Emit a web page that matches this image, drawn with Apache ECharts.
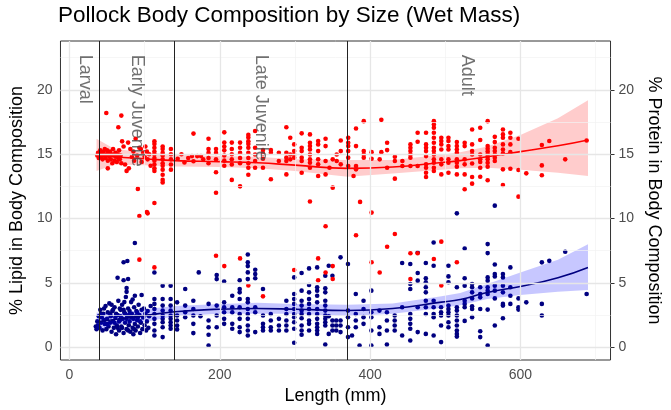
<!DOCTYPE html>
<html>
<head>
<meta charset="utf-8">
<script src="https://cdn.jsdelivr.net/npm/echarts@6/dist/echarts.min.js"></script>
<style>
  html, body { margin: 0; padding: 0; background: #ffffff; }
  #chart { width: 671px; height: 410px; }
</style>
</head>
<body>
<div id="chart"></div>
<script>
// Pollock body composition: protein (red) and lipid (navy) vs length
/* global echarts */

// ---- data: [length, [values...]] per column of points ----
const proteinCols = [
  [37,[14.9]],[38,[15.1]],[39,[14.7]],[40,[15.0]],[41,[15.3]],[42,[14.8]],[43,[15.1]],[44,[14.6]],
  [45,[15.2]],[46,[14.9]],[47,[15.4]],[48,[14.7]],[49,[15.0,18.2]],[50,[15.3]],[51,[14.5,13.9]],
  [52,[15.1]],[53,[14.8]],[54,[15.2]],[55,[14.6]],[56,[15.0]],[57,[14.3]],[58,[15.4]],[59,[14.9]],
  [60,[14.5]],[61,[15.1]],[62,[14.8]],[63,[14.4]],[64,[15.0]],[65,[14.7,17.1]],[66,[15.3]],
  [67,[14.6]],[68,[14.9]],[69,[14.3,18.0]],
  [70,[16.0]],[72,[15.6]],[74,[14.2]],[76,[13.7]],[78,[15.9]],[79,[13.9]],[81,[15.4]],[83,[14.8]],
  [85,[15.2]],[86,[14.5]],[88,[16.2]],[90,[14.9]],[91,[12.3]],[93,[15.5,10.2,6.8]],[95,[15.4]],
  [96,[14.4]],[98,[15.1]],[100,[14.8]],[101,[15.6]],[103,[15.2,10.5]],[104,[14.6,10.4]],
  [106,[15.0]],[108,[14.1]],
  [113,[16.0,15.8,15.5,15.2,15.0,14.7,14.5,14.2,13.9,13.7,11.2,6.2]],
  [124,[15.6,15.4,15.1,14.9,14.6,14.3,14.1,13.8,13.4,13.0,12.8]],
  [135,[15.4,15.0,14.6,14.2,13.8]],
  [144,[14.65]],[149,[15.0]],[153,[14.35]],[158,[14.7]],[163,[14.85]],[165,[14.45,16.6]],
  [170,[14.85]],[175,[14.85]],[178,[14.6]],
  [185,[16.2,15.4,15.1,14.7,14.3]],
  [195,[15.4,15.1,14.6,13.6,12.0,7.1]],
  [206,[16.7,15.9,15.6,15.3,14.9,14.5,14.1,6.3]],
  [216,[15.9,15.4,15.0,14.6,14.2,13.0]],
  [227,[15.9,15.5,15.1,14.7,14.3,12.5,6.9]],
  [238,[16.5,16.3,16.0,15.8,15.5,15.1,14.7,14.3,13.95,13.4,4.8]],
  [247,[16.8,15.5,14.98,14.47,13.95]],
  [257.5,[15.32,15.06,14.65,13.95,3.95]],
  [268,[15.32,15.11,13.05]],
  [278.6,[15.11,14.47]],
  [288.6,[17.1,15.11,14.73,14.47,13.43]],
  [293.8,[16.28,14.98,14.6]],
  [299,[15.76,15.24,14.98,14.73,6.0]],
  [309,[16.62,15.5,15.24,14.73,14.47,13.56]],
  [320,[16.54,15.89,15.63,15.37,14.98,14.6,14.34,13.95,11.32]],
  [330.9,[16.02,15.76,15.24,14.6,14.21,13.3,6.9,5.2]],
  [340.8,[16.2,15.63,14.47,13.43,9.4,5.8]],
  [346,[13.95]],
  [350.3,[14.6,12.4,6.3,5.3]],
  [355.6,[14.98,14.47]],
  [361,[16.07,15.24,14.21]],
  [370.9,[16.28,15.89,15.63,15.24,14.73,14.08]],
  [378,[13.3]],
  [381.3,[17.0,15.63,14.08,13.82,8.7]],
  [386.7,[11.29]],
  [391.6,[17.57,15.24,14.98,14.73]],
  [402,[15.16,14.65,10.46,6.6]],
  [412.8,[14.6,5.8]],
  [415,[17.67,15.16]],
  [422.7,[15.89,15.32,13.95,7.8]],
  [433,[14.8,14.47,13.1,8.8]],
  [443,[14.47,14.08]],
  [453.7,[15.76,15.5,15.24,14.98,14.73,14.08,7.3,5.3]],
  [463.3,[16.67,15.97,14.08,7.3]],
  [474.5,[16.67,15.76,15.5,15.24,14.85,14.21,13.95,13.56,13.23]],
  [484.9,[17.57,17.3,17.05,16.67,16.28,15.89,15.5,15.24,14.98,14.6,14.34,13.95,13.69,6.85]],
  [494.8,[16.28,16.02,15.76,15.37,14.6,14.21,13.43,8.2,4.8]],
  [504.3,[16.28,16.02,15.63,15.37,14.6,14.34,13.56]],
  [515.5,[15.94,15.63,15.37,15.11,14.6,14.34,14.03,13.43,6.6]],
  [525.9,[15.89,15.63,14.6,14.21,13.43,12.27]],
  [535.8,[16.92,15.76,15.24,14.98,14.28,13.23,12.71]],
  [546.6,[17.05,16.1,14.98,14.6,14.39,13.95,13.25]],
  [556.5,[17.57,15.63,15.42,15.21,15.0,14.8,14.6,14.34,14.03,12.97]],
  [566,[16.35,15.94,15.5,15.24,14.98,14.73,14.47]],
  [576.8,[16.92,16.54,16.28,15.76,15.37,15.06,13.82,12.61]],
  [586.7,[16.67,16.28,15.76,15.16,13.87]],
  [597.5,[16.2,13.77,11.7]],
  [607.9,[13.51]],
  [628.6,[15.71,14.13,13.36]],
  [638.5,[16.02]],
  [659.7,[14.6]],
  [688.2,[16.07]],
];

const lipidCols = [
  [35,[1.6]],[36,[1.4]],[37,[2.0]],[38,[1.7]],[39,[2.4]],[40,[1.5]],[41,[2.9]],[42,[1.9,2.6]],
  [43,[2.3]],[44,[1.3]],[45,[2.6]],[46,[2.1,3.0]],[47,[1.8]],[48,[3.2]],[49,[1.4]],[50,[2.2,1.8]],
  [51,[2.7]],[52,[1.6]],[53,[3.4]],[54,[1.9,2.6]],[55,[2.4]],[56,[1.2,3.3]],[57,[2.8]],
  [58,[2.0,2.9]],[59,[1.5]],[60,[3.1,1.9]],[61,[2.3]],[62,[1.0,2.6]],[63,[1.7]],
  [64,[2.5,1.5,5.4]],[65,[3.6]],[66,[1.3,2.0]],[67,[2.1,3.0]],[68,[2.9,2.4]],[69,[1.6]],
  [70,[3.3,1.5]],[71,[2.2]],[72,[1.1,2.9,6.6,5.2]],[73,[2.7,3.5]],[74,[1.9,2.6]],[75,[3.9]],
  [76,[1.4,2.2,4.6,4.3]],[77,[2.4,6.7]],[78,[3.0,1.3,5.3]],[79,[1.7,2.5]],[80,[2.0,2.8]],
  [81,[1.2]],[82,[3.5,2.3]],[83,[2.6]],[84,[1.5,3.7]],[85,[2.2,1.0]],[86,[3.1,1.4]],
  [87,[1.8,8.1,4.0]],[88,[1.3,2.4]],[89,[2.8]],[90,[2.1,2.7]],[91,[1.6,2.3]],[92,[3.3]],
  [93,[2.5]],[94,[1.1,2.0]],[95,[1.9]],[96,[2.9,4.05]],[97,[1.4]],[98,[2.3]],[99,[3.0]],
  [100,[1.7]],[101,[2.6]],[102,[1.3]],[103,[2.0]],[104,[2.8]],[105,[1.5]],[106,[2.4]],[108,[3.2]],
  [113,[3.74,3.36,2.97,2.58,2.2,1.81,1.29,0.91,5.8]],
  [124,[3.74,3.23,2.84,2.46,2.2,1.94,1.55,0.78,4.78]],
  [134.6,[3.74,3.23,2.84,2.46,2.2,1.94,1.68,1.43,4.78]],
  [143.2,[3.48,2.46,2.07,1.68,1.38]],
  [154,[3.23,2.71,2.33,4.52]],
  [164.8,[3.61,2.97,2.46,1.81,1.09]],
  [172,[5.81]],
  [174.3,[2.4]],
  [185.1,[3.36,2.07,1.55,0.96,0.13]],
  [195.9,[3.23,2.46,1.55,5.6,5.29]],
  [205.8,[3.48,3.1,2.71,2.2,1.81,5.1]],
  [216.6,[4.0,3.1,2.71,1.81,1.43]],
  [226.5,[3.74,3.1,2.58,2.2,1.55,1.17,5.2,4.52,4.26]],
  [237.3,[3.74,3.48,2.97,2.58,2.2,1.68,1.29,0.91,7.2,6.59,6.3,5.81,5.29]],
  [247.2,[6.02,5.68,5.35,3.1,2.71,1.17]],
  [257.5,[4.52,2.46,1.81,1.55,1.29]],
  [267.9,[2.58,2.07,1.55,1.29]],
  [278.7,[2.2,1.68,1.29]],
  [288.6,[3.61,2.97,2.58,2.07,1.68,1.29]],
  [299,[5.42,4.13,3.74,3.36,2.97,2.58,2.33,1.94,1.43,0.34]],
  [308.9,[5.76,4.39,3.61,3.23,2.84,2.58,2.25,1.68,1.29,0.96]],
  [318.8,[6.12,4.83,4.26,3.74,3.36,2.97,2.58,2.07,1.81,1.29]],
  [329.6,[6.2,4.65,4.39,4.0,3.48,2.97,2.58,2.2,1.81,1.55,1.29,1.03]],
  [340.4,[5.55,4.57,4.26,3.61,3.23,2.84,2.46,2.2,1.94,1.68,0.21]],
  [345,[6.33,2.4,1.03]],
  [349.9,[5.55,2.07,1.68,1.29]],
  [355,[2.07,1.68,1.29]],
  [360.7,[6.98,2.07,1.68,1.17]],
  [370.6,[6.46,2.84,2.33,1.55,0.78]],
  [376,[0.91]],
  [381,[4.13,2.58,2.07,1.55]],
  [386,[0.13]],
  [391.3,[3.61,2.97,2.33,1.81]],
  [401.7,[4.39,2.71,2.33,1.29,0.13]],
  [412.5,[2.84,1.55,1.03]],
  [422.4,[2.71,2.07,1.29,0.21]],
  [432.8,[2.46,2.07,1.68,1.29]],
  [442.7,[6.54,3.1,0.91]],
  [453.5,[6.46,4.91,4.52,2.58,2.2,1.81,1.43,0.52]],
  [463.4,[7.36,5.76,5.17,3.1,1.17]],
  [474.2,[6.54,5.35,5.04,4.65,4.26,3.61,3.1,2.58,1.03]],
  [484.6,[8.14,6.33,3.61,3.1,2.58,2.33,0.91]],
  [494.5,[3.1,2.71,2.46,1.68,0.39]],
  [504.3,[6.33,5.5,5.04,3.23,2.97,2.71,2.46,1.94,1.55]],
  [515.5,[10.4,4.65,3.1,2.84,2.46,2.07,1.68,1.29,1.03,0.82]],
  [525.9,[7.67,5.35,4.78,3.61,3.36,3.1,2.04]],
  [535.8,[4.91,4.65,4.26,3.79,3.17,2.97,2.33]],
  [546.6,[4.65,4.13,3.87,2.97,1.24,0.78]],
  [556.5,[8.01,7.31,5.42,5.17,4.65,4.39,4.13,2.92,0.13]],
  [566,[11.0,6.43,5.68,5.5,4.78,4.39,3.79,1.68]],
  [576.8,[5.68,5.42,4.78,4.26,3.36,3.23,2.25]],
  [586.7,[6.2,4.65,4.0,3.36]],
  [597.5,[3.79,3.1,2.92]],
  [607.9,[3.48]],
  [628.6,[6.59,3.36,2.46]],
  [638.5,[6.71]],
  [659.7,[7.41]],
  [688.2,[4.13]],
];

// smoothed fits with confidence band (read at these lengths)
const smoothX    = [36, 60, 100, 140, 200, 250, 300, 370, 430, 495, 520, 556, 600, 650, 690];
const proteinFit = [14.95, 14.8, 14.65, 14.5, 14.42, 14.33, 14.15, 13.9, 14.0, 14.35, 14.5, 14.8, 15.2, 15.65, 16.1];
const proteinLo  = [13.7, 14.2, 14.15, 14.05, 14.0, 13.9, 13.7, 13.25, 13.5, 13.8, 13.9, 13.95, 13.8, 13.55, 13.3];
const proteinHi  = [16.2, 15.4, 15.15, 14.95, 14.85, 14.8, 14.6, 14.55, 14.55, 14.95, 15.15, 15.6, 16.5, 17.8, 19.2];
const lipidFit   = [1.95, 2.15, 2.45, 2.75, 2.95, 3.0, 2.95, 2.85, 3.0, 3.5, 3.7, 4.25, 4.72, 5.4, 6.2];
const lipidLo    = [1.3, 1.75, 1.95, 2.4, 2.6, 2.6, 2.6, 2.4, 2.6, 3.05, 3.25, 3.75, 4.05, 4.3, 4.45];
const lipidHi    = [2.7, 2.55, 2.95, 3.2, 3.35, 3.45, 3.35, 3.3, 3.4, 3.95, 4.2, 4.9, 5.8, 6.8, 8.0];

// life stage boundaries and labels
const stageBounds = [40, 140, 370];
const stageNames  = ['Larval', 'Early Juvenile', 'Late Juvenile', 'Adult'];
const stageX      = [21, 91, 255, 530];
const stageTop    = 22.7;

// axis ticks
const xTicks = [0, 200, 400, 600];
const xMinor = [100, 300, 500, 700];
const yTicks = [0, 5, 10, 15, 20];
const yMinor = [2.5, 7.5, 12.5, 17.5, 22.5];

// ---- helpers ----
const FONT = '"Liberation Sans", Arial, sans-serif';
const flatten = (cols) => cols.flatMap(([x, ys]) => ys.map((y) => [x, y]));
const pair = (xs, ys) => xs.map((x, i) => [x, ys[i]]);

const MAJOR = { color: '#e6e6e6', width: 1.3, type: 'solid' };
const MINOR = { color: '#f2f2f2', width: 0.7, type: 'solid' };
const gridLines = [
  ...xMinor.map((v) => ({ xAxis: v, lineStyle: MINOR })),
  ...yMinor.map((v) => ({ yAxis: v, lineStyle: MINOR })),
  ...xTicks.map((v) => ({ xAxis: v, lineStyle: MAJOR })),
  ...yTicks.map((v) => ({ yAxis: v, lineStyle: MAJOR })),
];

const TICK_LABEL = { color: '#4d4d4d', fontSize: 14, fontFamily: FONT, margin: 8 };
const TICK = { show: true, length: 4, lineStyle: { color: '#333333', width: 1 } };
const NAME_STYLE = { color: '#000000', fontSize: 18, fontFamily: FONT };

function yAxisDef(pos, name, rotate, gap) {
  return {
    type: 'value', position: pos, min: -1, max: 23.8,
    name, nameLocation: 'middle', nameRotate: rotate, nameGap: gap, nameTextStyle: NAME_STYLE,
    axisLine: { show: false },
    axisTick: { ...TICK, customValues: yTicks },
    axisLabel: { ...TICK_LABEL, customValues: yTicks },
    splitLine: { show: false },
  };
}

// confidence band: polygon through the upper edge then back along the lower edge
function bandSeries(hi, lo, fill) {
  return {
    type: 'custom', z: 3, silent: true, data: [0],
    renderItem: (params, api) => {
      const top = smoothX.map((x, i) => api.coord([x, hi[i]]));
      const bottom = smoothX.map((x, i) => api.coord([x, lo[i]])).reverse();
      return {
        type: 'polygon',
        shape: { points: top.concat(bottom) },
        style: { fill, stroke: 'none' },
      };
    },
  };
}

const chart = echarts.init(document.getElementById('chart'));
chart.setOption({
  animation: false,
  title: {
    text: 'Pollock Body Composition by Size (Wet Mass)',
    left: 58, top: 4, padding: 0,
    textStyle: { fontSize: 22.5, fontWeight: 'normal', color: '#000000', fontFamily: FONT },
  },
  grid: {
    left: 59, top: 41, right: 47, bottom: 49,
    show: true, borderColor: '#333333', borderWidth: 1, backgroundColor: 'transparent',
  },
  xAxis: {
    type: 'value', min: -12, max: 720,
    name: 'Length (mm)', nameLocation: 'middle', nameGap: 27, nameTextStyle: NAME_STYLE,
    axisLine: { show: false },
    axisTick: { ...TICK, customValues: xTicks },
    axisLabel: { ...TICK_LABEL, customValues: xTicks },
    splitLine: { show: false },
  },
  yAxis: [
    yAxisDef('left', '% Lipid in Body Composition', 90, 30),
    yAxisDef('right', '% Protein in Body Composition', -90, 32),
  ],
  series: [
    {
      // background grid lines
      type: 'line', data: [], z: 0, silent: true,
      markLine: { silent: true, symbol: ['none', 'none'], label: { show: false }, data: gridLines },
    },
    {
      name: 'Lipid', type: 'scatter', data: flatten(lipidCols),
      symbolSize: 4.6, itemStyle: { color: '#000080', opacity: 1 }, z: 2, silent: true,
    },
    {
      name: 'Protein', type: 'scatter', data: flatten(proteinCols),
      symbolSize: 4.6, itemStyle: { color: '#ff0000', opacity: 1 }, z: 2, silent: true,
    },
    bandSeries(lipidHi, lipidLo, 'rgba(0,0,255,0.22)'),
    bandSeries(proteinHi, proteinLo, 'rgba(255,0,0,0.2)'),
    // fitted lines
    {
      type: 'line', data: pair(smoothX, lipidFit), smooth: true, symbol: 'none',
      lineStyle: { color: '#000080', width: 1.6 }, z: 4, silent: true,
    },
    {
      type: 'line', data: pair(smoothX, proteinFit), smooth: true, symbol: 'none',
      lineStyle: { color: '#ff0000', width: 1.6 }, z: 4, silent: true,
    },
    {
      // stage boundaries and stage names
      type: 'scatter', z: 5, silent: true,
      symbolSize: 1, itemStyle: { color: 'rgba(0,0,0,0)' },
      data: stageX.map((x, i) => ({ value: [x, stageTop], name: stageNames[i] })),
      label: {
        show: true, formatter: '{b}', position: [0, 0], rotate: -90,
        align: 'left', verticalAlign: 'middle',
        color: '#4d4d4d', fontSize: 18, fontFamily: FONT,
      },
      markLine: {
        silent: true, symbol: ['none', 'none'], label: { show: false },
        lineStyle: { color: '#222222', width: 1, type: 'solid' },
        data: stageBounds.map((v) => ({ xAxis: v })),
      },
    },
  ],
});
</script>
</body>
</html>
